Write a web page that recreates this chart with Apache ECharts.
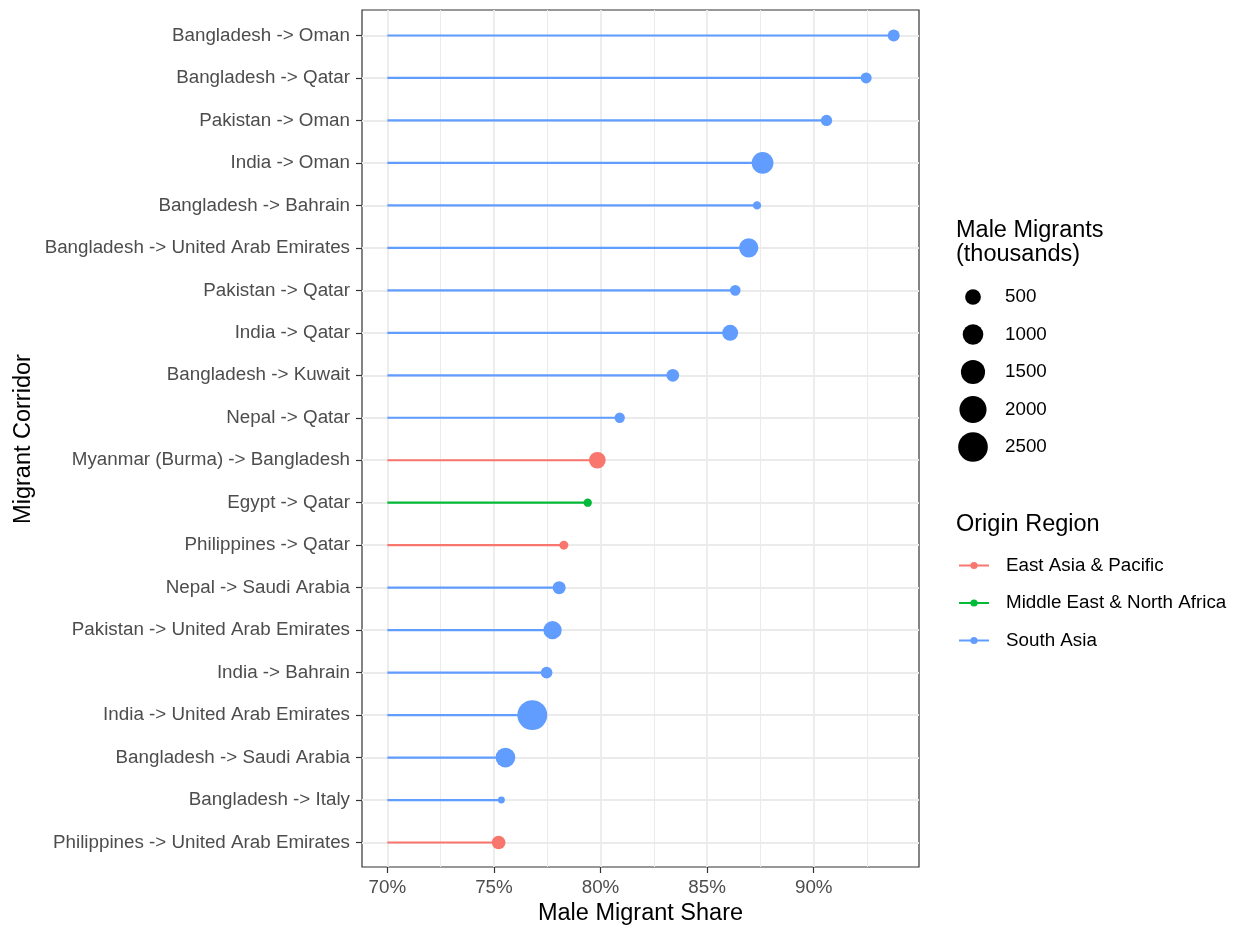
<!DOCTYPE html>
<html><head><meta charset="utf-8">
<script src="https://cdn.jsdelivr.net/npm/echarts@6/dist/echarts.min.js"></script>
<style>html,body{margin:0;padding:0;background:#fff}#chart{width:1237px;height:925px}</style>
</head><body><div id="chart"></div>
<script>
// ---------- DATA ----------
const corridors = [
  'Bangladesh -> Oman', 'Bangladesh -> Qatar', 'Pakistan -> Oman', 'India -> Oman',
  'Bangladesh -> Bahrain', 'Bangladesh -> United Arab Emirates', 'Pakistan -> Qatar',
  'India -> Qatar', 'Bangladesh -> Kuwait', 'Nepal -> Qatar', 'Myanmar (Burma) -> Bangladesh',
  'Egypt -> Qatar', 'Philippines -> Qatar', 'Nepal -> Saudi Arabia',
  'Pakistan -> United Arab Emirates', 'India -> Bahrain', 'India -> United Arab Emirates',
  'Bangladesh -> Saudi Arabia', 'Bangladesh -> Italy', 'Philippines -> United Arab Emirates'
];
const maleShare = [93.75, 92.46, 90.6, 87.6, 87.34, 86.95, 86.32, 86.08, 83.39, 80.9,
  79.85, 79.4, 78.28, 78.06, 77.75, 77.47, 76.8, 75.54, 75.35, 75.22];
const maleMigrants = [263, 221, 233, 1141, 154, 844, 211, 521, 298, 198,
  582, 154, 165, 314, 736, 250, 2550, 890, 145, 355];
const originRegion = ['South Asia','South Asia','South Asia','South Asia','South Asia','South Asia',
  'South Asia','South Asia','South Asia','South Asia','East Asia & Pacific','Middle East & North Africa',
  'East Asia & Pacific','South Asia','South Asia','South Asia','South Asia','South Asia','South Asia',
  'East Asia & Pacific'];
const regions = ['East Asia & Pacific', 'Middle East & North Africa', 'South Asia'];
const regionColors = ['#F8766D', '#00BA38', '#619CFF'];
const xTicks = [70, 75, 80, 85, 90];
const xMinorTicks = [72.5, 77.5, 82.5, 87.5, 92.5];
const sizeBreaks = [500, 1000, 1500, 2000, 2500];
const segmentStart = 70;

// ---------- SCALES ----------
const FONT = '"Liberation Sans", Arial, sans-serif';
const hi = Math.max(...maleShare), lo = segmentStart;
const pad = (hi - lo) * 0.05;
const xMin = lo - pad, xMax = hi + pad;
const sMin = Math.min(...maleMigrants), sMax = Math.max(...maleMigrants);
function diameter(v) {
  const t = Math.max(0, (v - sMin) / (sMax - sMin));
  return 6.9 + 23 * Math.sqrt(t);
}

const chart = echarts.init(document.getElementById('chart'));

const legendSeries = regions.map((r, i) => ({
  type: 'line', name: r, data: [], xAxisIndex: 2, yAxisIndex: 1,
  symbol: 'circle', color: regionColors[i],
  lineStyle: { width: 2.2, color: regionColors[i] },
  itemStyle: { color: regionColors[i] }
}));

const lollipopSeries = regions.map((r, i) => ({
  type: 'custom', name: r, xAxisIndex: 2, yAxisIndex: 1,
  encode: { x: 0, y: 1 },
  data: corridors.map((c, k) => ({ c, k })).filter(o => originRegion[o.k] === r)
    .map(o => [maleShare[o.k], corridors[o.k], maleMigrants[o.k]]),
  renderItem: function (params, api) {
    const y = api.value(1);
    const start = api.coord([segmentStart, y]);
    const end = api.coord([api.value(0), y]);
    const d = diameter(api.value(2));
    return {
      type: 'group', children: [
        { type: 'line', shape: { x1: start[0], y1: start[1], x2: end[0], y2: end[1] },
          style: { stroke: regionColors[i], lineWidth: 2.2 } },
        { type: 'circle', shape: { cx: end[0], cy: end[1], r: d / 2 },
          style: { fill: regionColors[i] } }
      ]
    };
  }
}));

const sizeLegendSeries = {
  type: 'scatter', name: 'sizeLegend', xAxisIndex: 3, yAxisIndex: 2, silent: true,
  data: sizeBreaks.map(b => [0, String(b), b]),
  symbolSize: v => diameter(v[2]),
  itemStyle: { color: '#000', opacity: 1 }
};

const option = {
  backgroundColor: '#fff',
  animation: false,
  textStyle: { fontFamily: FONT },
  title: [
    { text: 'Male Migrants\n(thousands)', left: 956, top: 219, padding: 0,
      textStyle: { fontFamily: FONT, fontSize: 23.5, fontWeight: 'normal', color: '#000', lineHeight: 24 } },
    { text: 'Origin Region', left: 956, top: 513, padding: 0,
      textStyle: { fontFamily: FONT, fontSize: 23.5, fontWeight: 'normal', color: '#000', lineHeight: 24 } }
  ],
  legend: {
    data: regions, orient: 'vertical', left: 958, top: 556, padding: 0,
    itemWidth: 30, itemHeight: 9, itemGap: 18.5,
    textStyle: { fontFamily: FONT, fontSize: 18.8, color: '#000', padding: [0, 0, 0, 12] },
    selectedMode: false
  },
  grid: [
    { left: 362, top: 10, width: 557, height: 857, show: true, borderColor: '#333333', borderWidth: 1.2, backgroundColor: 'transparent', containLabel: false, outerBoundsMode: 'none' },
    { left: 362, top: 35.5, width: 557, height: 807, containLabel: false, outerBoundsMode: 'none' },
    { left: 958, top: 278.25, width: 30, height: 187.5, containLabel: false, outerBoundsMode: 'none' }
  ],
  xAxis: [
    { type: 'value', gridIndex: 0, min: xMin, max: xMax,
      axisLine: { show: false },
      axisTick: { show: true, length: 6, customValues: xTicks, lineStyle: { color: '#333333', width: 1.2 } },
      axisLabel: { customValues: xTicks, formatter: '{value}%', margin: 11, fontSize: 18.8, color: '#4D4D4D', fontFamily: FONT },
      splitLine: { show: true, lineStyle: { color: '#EBEBEB', width: 1.8 } },
      name: 'Male Migrant Share', nameLocation: 'middle', nameGap: 32,
      nameTextStyle: { fontSize: 23.5, color: '#000', fontFamily: FONT } },
    { type: 'value', gridIndex: 0, position: 'top', min: xMin, max: xMax,
      axisLine: { show: false }, axisTick: { show: false, customValues: xMinorTicks },
      axisLabel: { show: false, customValues: xMinorTicks },
      splitLine: { show: true, lineStyle: { color: '#EBEBEB', width: 1.1 } } },
    { type: 'value', gridIndex: 1, min: xMin, max: xMax, show: false },
    { type: 'value', gridIndex: 2, min: -1, max: 1, show: false }
  ],
  yAxis: [
    { type: 'value', gridIndex: 0, min: 0, max: 1, show: false },
    { type: 'category', gridIndex: 1, data: corridors, inverse: true, boundaryGap: false,
      axisLine: { show: false },
      axisTick: { show: true, length: 6, interval: 0, lineStyle: { color: '#333333', width: 1.2 } },
      axisLabel: { interval: 0, margin: 12, fontSize: 18.8, color: '#4D4D4D', fontFamily: FONT },
      splitLine: { show: true, interval: 0, lineStyle: { color: '#EBEBEB', width: 1.8 } },
      name: 'Migrant Corridor', nameLocation: 'middle', nameGap: 326,
      nameTextStyle: { fontSize: 23.5, color: '#000', fontFamily: FONT } },
    { type: 'category', gridIndex: 2, data: sizeBreaks.map(String), inverse: true, position: 'right',
      axisLine: { show: false }, axisTick: { show: false }, splitLine: { show: false },
      axisLabel: { interval: 0, margin: 17, fontSize: 18.8, color: '#000', fontFamily: FONT } }
  ],
  series: [...legendSeries, ...lollipopSeries, sizeLegendSeries]
};
chart.setOption(option);
</script>
</body></html>
